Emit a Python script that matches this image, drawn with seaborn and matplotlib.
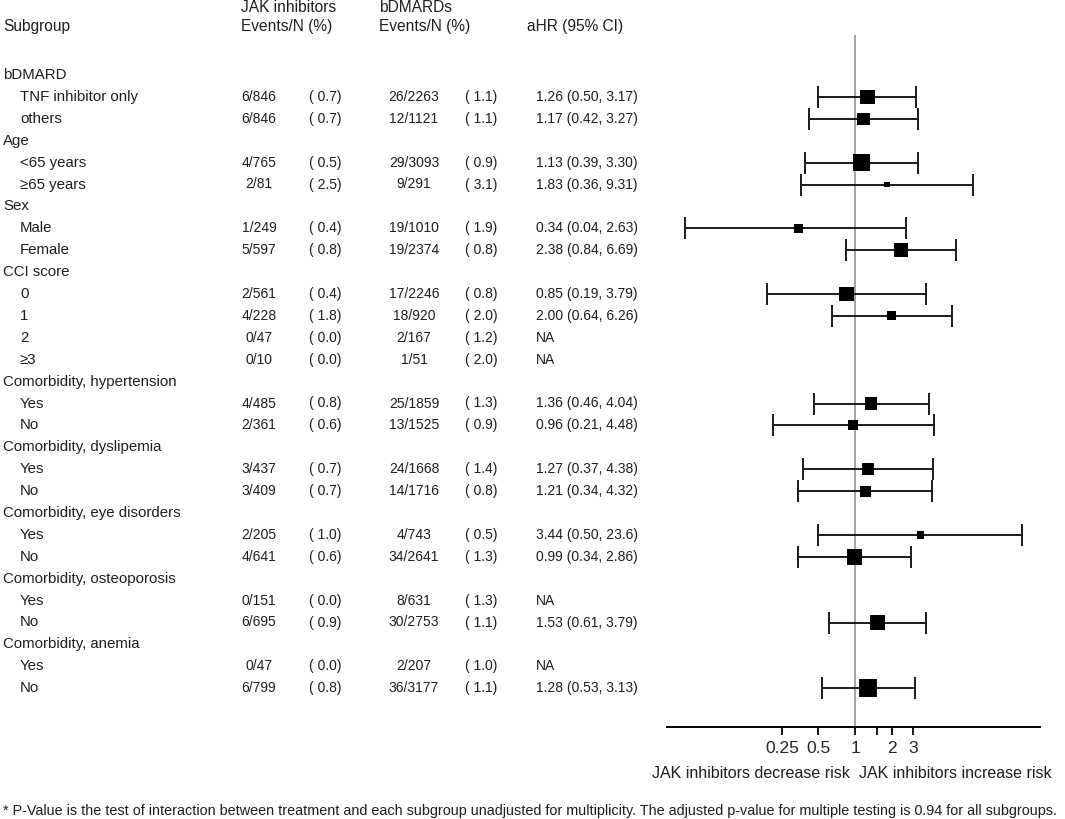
import numpy as np
import pandas as pd
import seaborn as sns
import matplotlib.pyplot as plt
from matplotlib.transforms import blended_transform_factory
from matplotlib.ticker import NullLocator

nan = np.nan

labels = ["bDMARD", "TNF inhibitor only", "others",
          "Age", "<65 years", "\u226565 years",
          "Sex", "Male", "Female",
          "CCI score", "0", "1", "2", "\u22653",
          "Comorbidity, hypertension", "Yes", "No",
          "Comorbidity, dyslipemia", "Yes", "No",
          "Comorbidity, eye disorders", "Yes", "No",
          "Comorbidity, osteoporosis", "Yes", "No",
          "Comorbidity, anemia", "Yes", "No"]
is_group = [1, 0, 0, 1, 0, 0, 1, 0, 0, 1, 0, 0, 0, 0,
            1, 0, 0, 1, 0, 0, 1, 0, 0, 1, 0, 0, 1, 0, 0]

jak_events = ["", "6/846", "6/846", "", "4/765", "2/81", "", "1/249", "5/597",
              "", "2/561", "4/228", "0/47", "0/10", "", "4/485", "2/361",
              "", "3/437", "3/409", "", "2/205", "4/641", "", "0/151", "6/695",
              "", "0/47", "6/799"]
jak_pct = [nan, 0.7, 0.7, nan, 0.5, 2.5, nan, 0.4, 0.8, nan, 0.4, 1.8, 0.0, 0.0,
           nan, 0.8, 0.6, nan, 0.7, 0.7, nan, 1.0, 0.6, nan, 0.0, 0.9, nan, 0.0, 0.8]
bd_events = ["", "26/2263", "12/1121", "", "29/3093", "9/291", "", "19/1010", "19/2374",
             "", "17/2246", "18/920", "2/167", "1/51", "", "25/1859", "13/1525",
             "", "24/1668", "14/1716", "", "4/743", "34/2641", "", "8/631", "30/2753",
             "", "2/207", "36/3177"]
bd_pct = [nan, 1.1, 1.1, nan, 0.9, 3.1, nan, 1.9, 0.8, nan, 0.8, 2.0, 1.2, 2.0,
          nan, 1.3, 0.9, nan, 1.4, 0.8, nan, 0.5, 1.3, nan, 1.3, 1.1, nan, 1.0, 1.1]
ci_text = ["", "1.26 (0.50, 3.17)", "1.17 (0.42, 3.27)", "", "1.13 (0.39, 3.30)",
           "1.83 (0.36, 9.31)", "", "0.34 (0.04, 2.63)", "2.38 (0.84, 6.69)", "",
           "0.85 (0.19, 3.79)", "2.00 (0.64, 6.26)", "NA", "NA", "",
           "1.36 (0.46, 4.04)", "0.96 (0.21, 4.48)", "", "1.27 (0.37, 4.38)",
           "1.21 (0.34, 4.32)", "", "3.44 (0.50, 23.6)", "0.99 (0.34, 2.86)", "",
           "NA", "1.53 (0.61, 3.79)", "", "NA", "1.28 (0.53, 3.13)"]
hr = [nan, 1.26, 1.17, nan, 1.13, 1.83, nan, 0.34, 2.38, nan, 0.85, 2.00, nan, nan,
      nan, 1.36, 0.96, nan, 1.27, 1.21, nan, 3.44, 0.99, nan, nan, 1.53, nan, nan, 1.28]
ci_lo = [nan, 0.50, 0.42, nan, 0.39, 0.36, nan, 0.04, 0.84, nan, 0.19, 0.64, nan, nan,
         nan, 0.46, 0.21, nan, 0.37, 0.34, nan, 0.50, 0.34, nan, nan, 0.61, nan, nan, 0.53]
ci_hi = [nan, 3.17, 3.27, nan, 3.30, 9.31, nan, 2.63, 6.69, nan, 3.79, 6.26, nan, nan,
         nan, 4.04, 4.48, nan, 4.38, 4.32, nan, 23.6, 2.86, nan, nan, 3.79, nan, nan, 3.13]
weight = [nan, 13, 11, nan, 15, 5, nan, 8, 13, nan, 13, 8, nan, nan,
          nan, 11, 9, nan, 11, 10, nan, 7, 14, nan, nan, 14, nan, nan, 16]

xticks = [0.25, 0.5, 1, 1.5, 2, 3]
xtick_labels = ["0.25", "0.5", "1", "", "2", "3"]

df = pd.DataFrame({"row": np.arange(len(labels)), "hr": hr, "lo": ci_lo,
                   "hi": ci_hi, "w": weight})
est = df.dropna().copy()
est["area"] = (est["w"] * 0.8) ** 2

sns.set_theme(style="white")
plt.rcParams["font.family"] = ["Liberation Sans", "DejaVu Sans"]
plt.rcParams["text.color"] = "#1e1e1e"

W, H = 1065, 819
fig = plt.figure(figsize=(W / 100, H / 100), dpi=100)

ax_left, ax_right, ax_top, ax_bot = 667, 1040, 35, 727
ax = fig.add_axes([ax_left / W, 1 - ax_bot / H, (ax_right - ax_left) / W,
                   (ax_bot - ax_top) / H])

row0, step = 75, 21.9
ax.set_ylim((ax_bot - row0) / step, (ax_top - row0) / step)
ax.set_xscale("log")
ax.set_xlim(0.0285, 33)

ax.axvline(1, color="#8a8a8a", lw=1.1, zorder=1)
ax.errorbar(est["hr"], est["row"],
            xerr=[est["hr"] - est["lo"], est["hi"] - est["hr"]],
            fmt="none", ecolor="#1a1a1a", elinewidth=1.4, capsize=8,
            capthick=1.4, zorder=2)
sns.scatterplot(data=est, x="hr", y="row", size="area",
                sizes=(est["area"].min(), est["area"].max()),
                size_norm=(est["area"].min(), est["area"].max()),
                marker="s", color="black", edgecolor="none", linewidth=0,
                legend=False, ax=ax, zorder=3)

ax.set_xlabel("")
ax.set_ylabel("")
ax.set_yticks([])
ax.set_xticks(xticks)
ax.set_xticklabels(xtick_labels)
ax.xaxis.set_minor_locator(NullLocator())
ax.tick_params(axis="x", direction="out", length=6, width=1.3, color="black",
               labelsize=12.5, pad=4, bottom=True)
for s in ["left", "top", "right"]:
    ax.spines[s].set_visible(False)
ax.spines["bottom"].set_color("black")
ax.spines["bottom"].set_linewidth(1.4)

# table text
tr = blended_transform_factory(fig.transFigure, ax.transData)
fs_lab, fs_num = 10.8, 10
for i, lab in enumerate(labels):
    x = 3 if is_group[i] else 20
    ax.text(x / W, i, lab, transform=tr, ha="left", va="center",
            fontsize=fs_lab, clip_on=False)
    if jak_events[i]:
        ax.text(259 / W, i, jak_events[i], transform=tr, ha="center",
                va="center", fontsize=fs_num, clip_on=False)
        ax.text(309 / W, i, f"({jak_pct[i]:4.1f})", transform=tr, ha="left",
                va="center", fontsize=fs_num, clip_on=False)
        ax.text(414 / W, i, bd_events[i], transform=tr, ha="center",
                va="center", fontsize=fs_num, clip_on=False)
        ax.text(465 / W, i, f"({bd_pct[i]:4.1f})", transform=tr, ha="left",
                va="center", fontsize=fs_num, clip_on=False)
        ax.text(536 / W, i, ci_text[i], transform=tr, ha="left",
                va="center", fontsize=fs_num, clip_on=False)

hfs = 11.2
fig.text(3 / W, 1 - 27 / H, "Subgroup", ha="left", va="center", fontsize=hfs)
fig.text(241 / W, 1 - 8 / H, "JAK inhibitors", ha="left", va="center", fontsize=hfs)
fig.text(241 / W, 1 - 27 / H, "Events/N (%)", ha="left", va="center", fontsize=hfs)
fig.text(379 / W, 1 - 8 / H, "bDMARDs", ha="left", va="center", fontsize=hfs)
fig.text(379 / W, 1 - 27 / H, "Events/N (%)", ha="left", va="center", fontsize=hfs)
fig.text(527 / W, 1 - 27 / H, "aHR (95% CI)", ha="left", va="center", fontsize=hfs)

fig.text(850 / W, 1 - 773 / H, "JAK inhibitors decrease risk", ha="right",
         va="center", fontsize=11.5)
fig.text(859 / W, 1 - 773 / H, "JAK inhibitors increase risk", ha="left",
         va="center", fontsize=11.5)
fig.text(3 / W, 1 - 811 / H,
         "* P-Value is the test of interaction between treatment and each subgroup "
         "unadjusted for multiplicity. The adjusted p-value for multiple testing is "
         "0.94 for all subgroups.",
         ha="left", va="center", fontsize=10.4)

fig.savefig("out.png", dpi=100)
